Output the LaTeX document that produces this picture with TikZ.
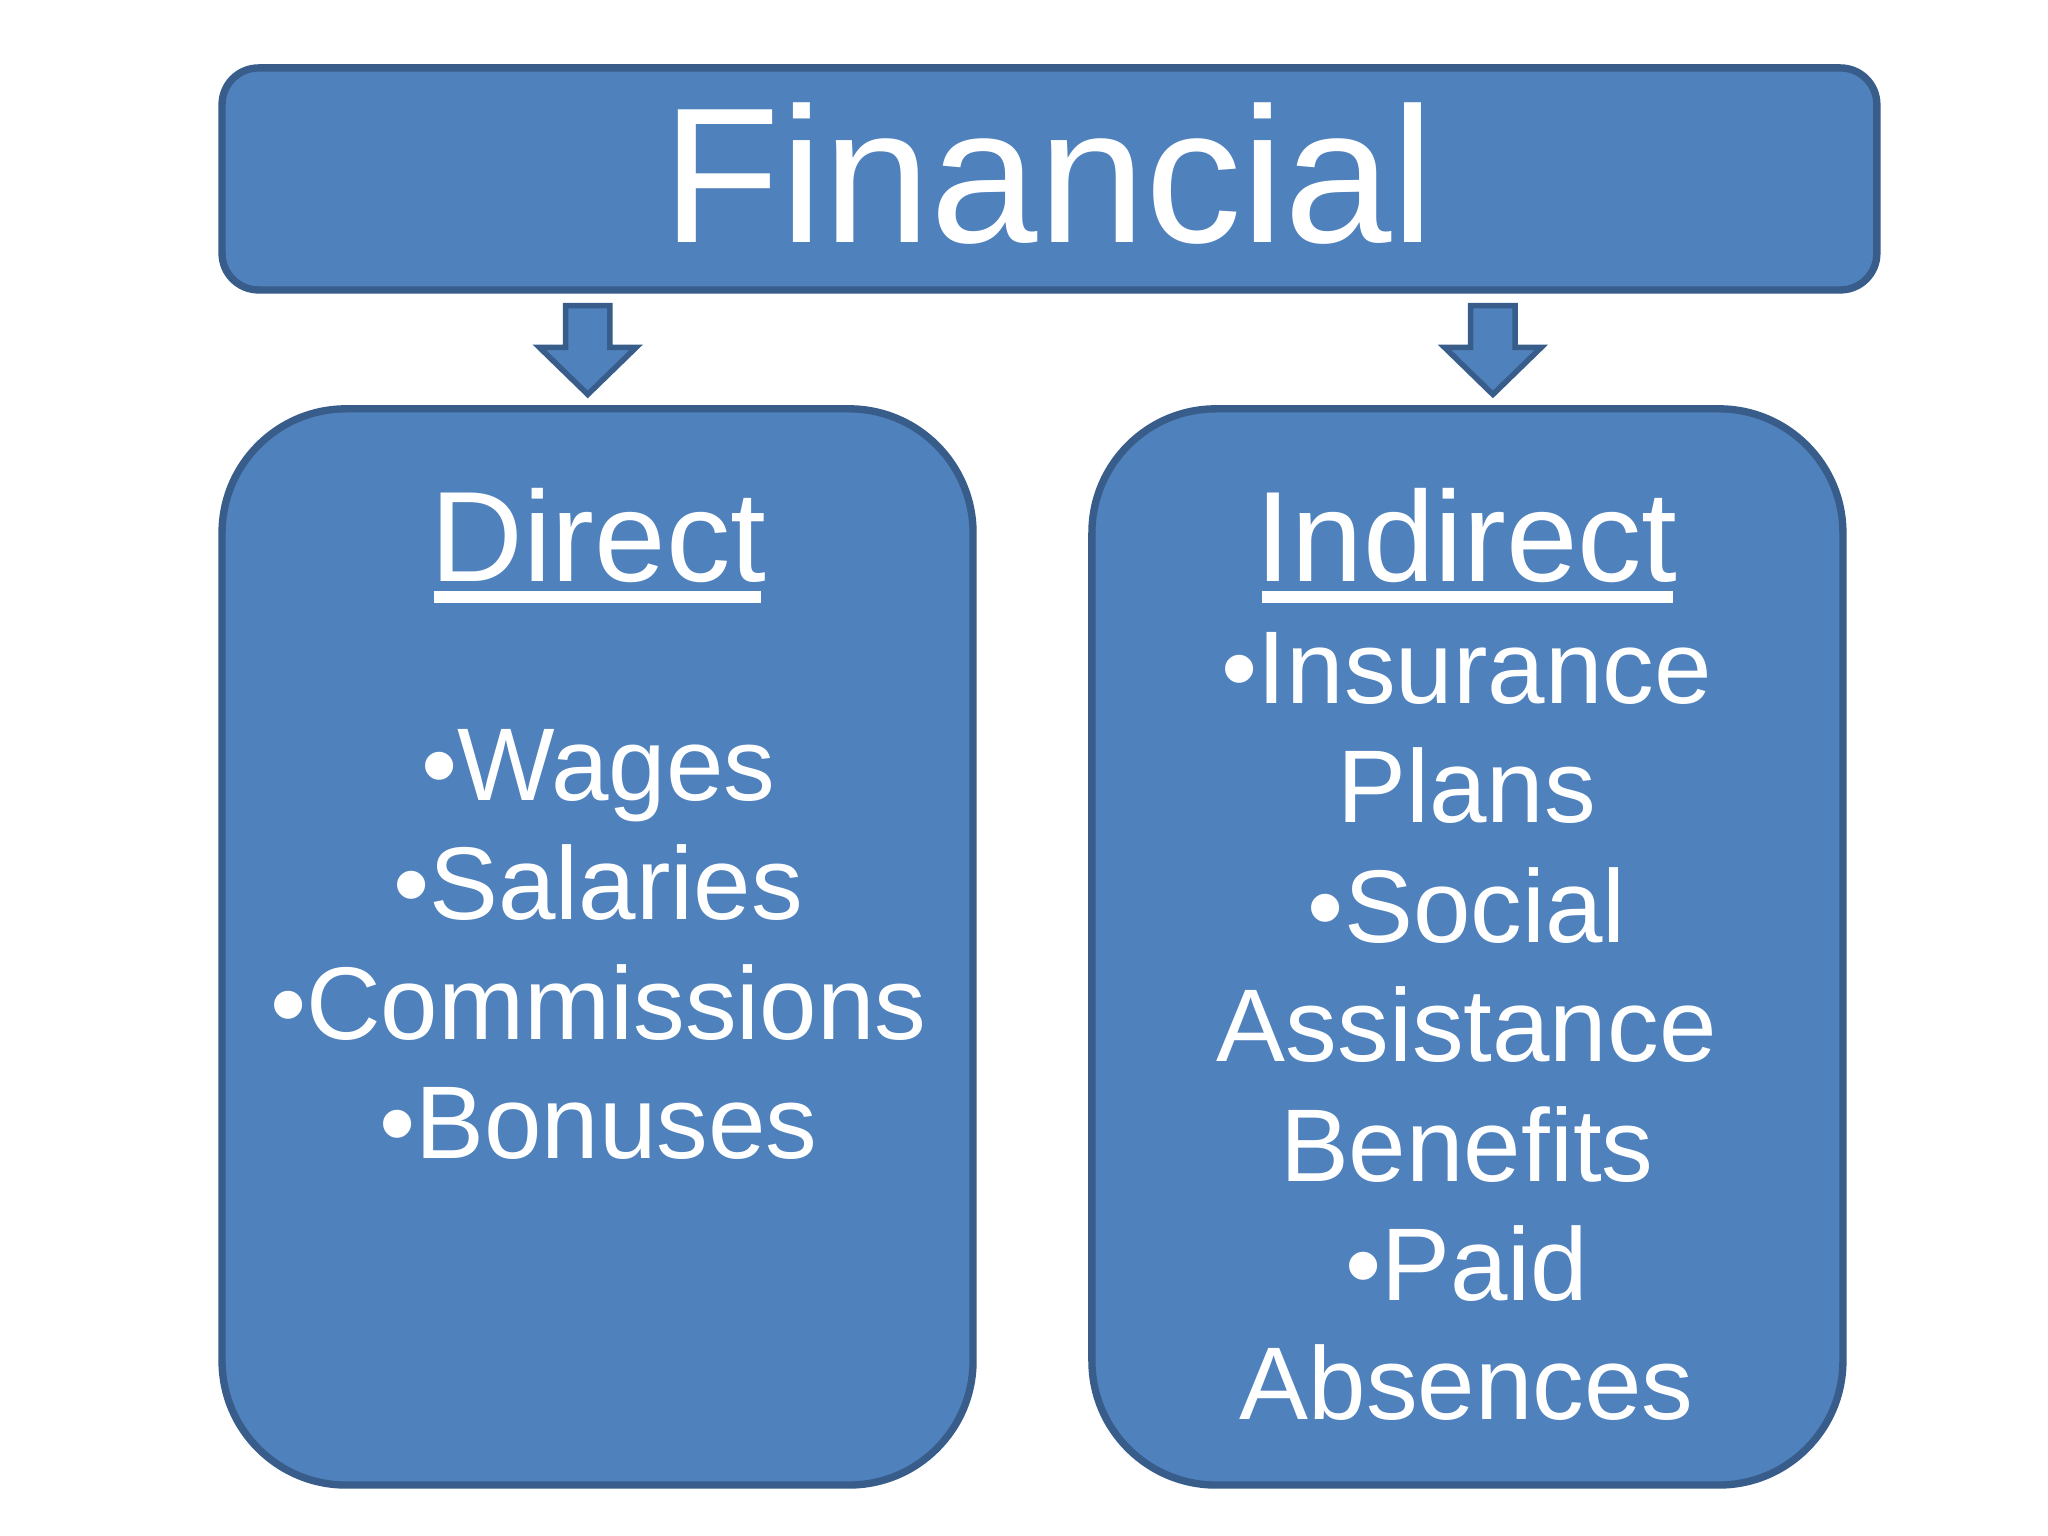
\documentclass[tikz,border=0pt]{standalone}
\usepackage{fontspec}
\setmainfont{Liberation Sans}
\definecolor{fillb}{HTML}{4F81BD}
\definecolor{edgeb}{HTML}{385D8A}
\begin{document}
\begin{tikzpicture}[x=0.01cm,y=-0.01cm,
  boxst/.style={fill=fillb,draw=edgeb,line width=1.6pt},
  txt/.style={text=white,align=center,inner sep=0pt}]
\useasboundingbox (0,0) rectangle (1568,1176);
\fill[white] (0,0) rectangle (1568,1176);
\draw[boxst,rounded corners=0.28cm] (170,52) rectangle (1437,222);
\node[txt,font=\fontsize{42}{48}\selectfont] (fin) at (803,133) {Financial};
\draw[boxst,rounded corners=0.95cm] (170,313) rectangle (745,1137);
\draw[boxst,rounded corners=0.95cm] (836,313) rectangle (1411,1137);
\foreach \c/\n in {450/al,1143/ar}{
  \draw[boxst,line width=1.2pt] (\c-17,234) -- (\c+17,234) -- (\c+17,266) -- (\c+37,266) -- (\c,302) -- (\c-37,266) -- (\c-17,266) -- cycle;
}
\node[txt,font=\fontsize{28}{32}\selectfont] (dh) at (458,410) {Direct};
\draw[white,line width=2.6pt] (332,457) -- (583,457);
\node[txt,font=\fontsize{28}{32}\selectfont] (ih) at (1123,410) {Indirect};
\draw[white,line width=2.6pt] (966,457) -- (1281,457);
\node[txt,font=\fontsize{22.5}{26}\selectfont] (dl) at (458,723) {•Wages\\•Salaries\\•Commissions\\•Bonuses};
\node[txt,font=\fontsize{22.5}{26}\selectfont] (il) at (1123,786) {•Insurance\\Plans\\•Social\\Assistance\\Benefits\\•Paid\\Absences};
\end{tikzpicture}
\end{document}
